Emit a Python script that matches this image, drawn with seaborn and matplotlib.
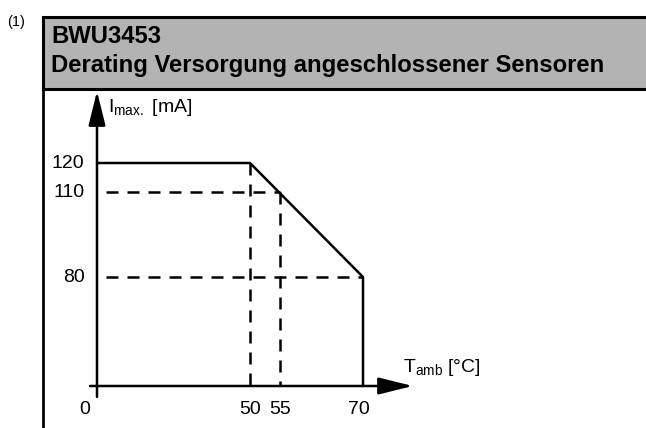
import numpy as np
import pandas as pd
import seaborn as sns
import matplotlib.pyplot as plt
from matplotlib.patches import Rectangle
from matplotlib.lines import Line2D

# derating curve: T_amb [°C] -> I_max [mA]
temp = [0, 50, 70, 70]
current = [120, 120, 80, 0]

# dashed guide lines
h_levels = [110, 80]
h_ends = [55, 70]
v_temps = [50, 55]
v_tops = [120, 110]

x_ticks = [0, 50, 55, 70]
x_tick_labels = ['0', '50', '55', '70']
y_ticks = [120, 110, 80]
y_tick_labels = ['120', '110', '80']

title_1 = 'BWU3453'
title_2 = 'Derating Versorgung angeschlossener Sensoren'
note = '(1)'

# schematic (not-to-scale) axes: piecewise linear scale
x_knots = [-40, 0, 50, 55, 70, 130]
x_units = [-122.4, 0, 153, 183, 266, 597.8]
y_knots = [-40, 0, 80, 110, 120, 220]
y_units = [-54.5, 0, 109, 194, 223, 510]


def x_fwd(v):
    return np.interp(v, x_knots, x_units)


def x_inv(u):
    return np.interp(u, x_units, x_knots)


def y_fwd(v):
    return np.interp(v, y_knots, y_units)


def y_inv(u):
    return np.interp(u, y_units, y_knots)


sns.set_theme(style='white')
plt.rcParams['font.family'] = ['Liberation Sans', 'DejaVu Sans']
plt.rcParams['text.color'] = 'black'

W, H = 646, 428
fig = plt.figure(figsize=(W / 100, H / 100), dpi=100)
ax = fig.add_axes([0, 0, 1, 1])
ax.set_xscale('function', functions=(x_fwd, x_inv))
ax.set_yscale('function', functions=(y_fwd, y_inv))
ax.set_xlim(x_inv(-97), x_inv(549))
ax.set_ylim(y_inv(-42), y_inv(386))
ax.axis('off')


def fx(px):
    return px / W


def fy(px):
    return 1 - px / H


# header box
fig.add_artist(Rectangle((fx(43), fy(89)), fx(620), fy(17) - fy(89),
                         transform=fig.transFigure, facecolor='#b3b3b3',
                         edgecolor='black', lw=2.2, zorder=1))
fig.add_artist(Line2D([fx(43), fx(43)], [fy(17), 0], transform=fig.transFigure,
                      color='black', lw=2.0, zorder=2))
fig.text(fx(51), fy(43), title_1, fontsize=17.2, fontweight='bold', va='baseline')
fig.text(fx(51), fy(72), title_2, fontsize=17.2, fontweight='bold', va='baseline')
fig.text(fx(7), fy(26), note, fontsize=10.5, va='baseline')

# curve
df = pd.DataFrame({'T_amb': temp, 'I_max': current})
sns.lineplot(data=df, x='T_amb', y='I_max', sort=False, estimator=None,
             color='black', lw=1.8, ax=ax)

dash = (0, (4.8, 3.6))
for lvl, end in zip(h_levels, h_ends):
    ax.plot([0, end], [lvl, lvl], color='black', lw=1.8,
            linestyle=(4.8, (4.8, 3.6)))
for t, top in zip(v_temps, v_tops):
    ax.plot([t, t], [top, 0], color='black', lw=1.8, linestyle=dash)

# axes with arrows
arrow = dict(arrowstyle='-|>,head_length=1.05,head_width=0.26', mutation_scale=20,
             lw=1.8, color='black', shrinkA=0, shrinkB=0)
ax.annotate('', xy=(0, 145), xytext=(0, -8), arrowprops=arrow)
ax.annotate('', xy=(79, 0), xytext=(-2.3, 0), arrowprops=arrow)

# tick labels
for v, lab in zip(y_ticks, y_tick_labels):
    ax.annotate(lab, (0, v), xytext=(-9, 0), textcoords='offset points',
                ha='right', va='center', fontsize=14)
for v, lab in zip(x_ticks, x_tick_labels):
    off = -9 if v == 0 else -3 if v == 70 else 0
    ax.annotate(lab, (v, 0), xytext=(off, -17), textcoords='offset points',
                ha='center', va='center', fontsize=14)

# axis titles
ax.annotate(r'$\mathregular{I_{max.}}$ [mA]', (0, 145), xytext=(8, -15),
            textcoords='offset points', ha='left', va='baseline', fontsize=14)
ax.annotate(r'$\mathregular{T_{amb}}$ [°C]', (70, 0), xytext=(29, 10),
            textcoords='offset points', ha='left', va='baseline', fontsize=14)

fig.savefig('out.png', dpi=100)
